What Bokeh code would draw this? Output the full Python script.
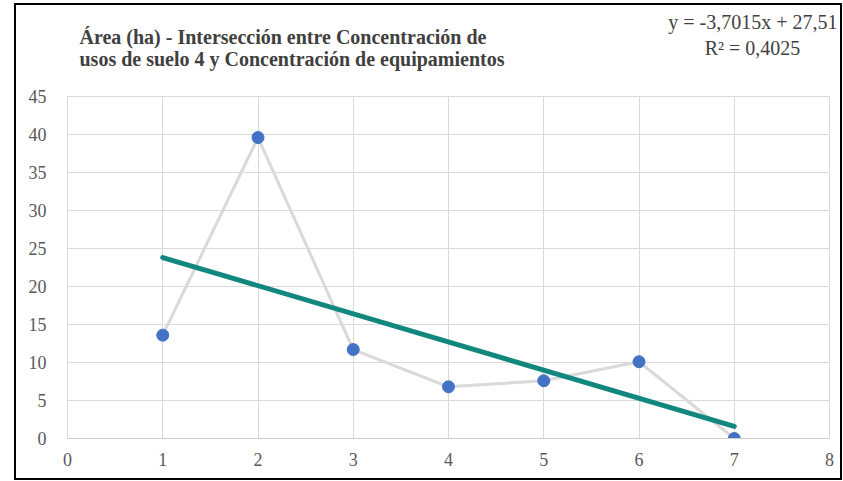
from bokeh.plotting import figure
from bokeh.models import Range1d, Label, FixedTicker
from bokeh.embed import file_html
from bokeh.resources import INLINE

# ---- data ----
x_vals = [1, 2, 3, 4, 5, 6, 7]
area_ha = [13.6, 39.6, 11.7, 6.8, 7.6, 10.1, 0.0]
trend_slope = -3.7015
trend_intercept = 27.51
trend_x = [1, 7]
x_ticks = [0, 1, 2, 3, 4, 5, 6, 7, 8]
y_ticks = [0, 5, 10, 15, 20, 25, 30, 35, 40, 45]
title_lines = ["Área (ha) - Intersección entre Concentración de",
               "usos de suelo 4 y Concentración de equipamientos"]
eq_lines = ["y = -3,7015x + 27,51", "R² = 0,4025"]

trend_y = [trend_slope * xv + trend_intercept for xv in trend_x]

SERIF = "Liberation Serif"

p = figure(width=824, height=473, output_backend="svg", toolbar_location=None,
           x_range=Range1d(0, 8), y_range=Range1d(0, 45),
           min_border_left=51, min_border_right=15, min_border_top=91,
           min_border_bottom=44, margin=(3, 0, 0, 14))
p.styles = {"border": "2px solid #000000", "box-sizing": "content-box"}
p.background_fill_color = "white"
p.border_fill_color = "white"
p.outline_line_color = "#d9d9d9"

for ax in (p.xaxis[0], p.yaxis[0]):
    ax.major_tick_line_color = None
    ax.minor_tick_line_color = None
    ax.major_label_text_font = SERIF
    ax.major_label_text_font_size = "18px"
    ax.major_label_text_color = "#595959"
p.xaxis[0].ticker = FixedTicker(ticks=x_ticks)
p.yaxis[0].ticker = FixedTicker(ticks=y_ticks)
p.xaxis[0].axis_line_color = "#d0d0d0"
p.yaxis[0].axis_line_color = None
p.xaxis[0].major_label_standoff = 8
p.yaxis[0].major_label_standoff = 15

p.xgrid[0].ticker = FixedTicker(ticks=x_ticks)
p.ygrid[0].ticker = FixedTicker(ticks=y_ticks)
p.xgrid[0].grid_line_color = "#d9d9d9"
p.ygrid[0].grid_line_color = "#d9d9d9"

p.line(x_vals, area_ha, line_color="#d9d9d9", line_width=3)
p.line(trend_x, trend_y, line_color="#12877d", line_width=5, line_cap="round")
p.scatter(x_vals, area_ha, size=12, fill_color="#4472c4", line_color="#4472c4")

# title (two lines) -- placed in the top panel so it is not clipped to the frame
for txt, yy in zip(title_lines, [40, 62]):
    p.add_layout(Label(x=61, y=yy, x_units="canvas", y_units="canvas",
                       text=txt, text_font=SERIF,
                       text_font_style="bold", text_font_size="20px",
                       text_color="#404040", text_baseline="bottom",
                       text_align="left"), "above")

# trendline equation
p.add_layout(Label(x=819, y=25, x_units="canvas", y_units="canvas",
                   text=eq_lines[0], text_font=SERIF,
                   text_font_size="20px", text_color="#404040",
                   text_baseline="bottom", text_align="right"), "above")
p.add_layout(Label(x=734, y=51, x_units="canvas", y_units="canvas",
                   text=eq_lines[1], text_font=SERIF,
                   text_font_size="20px", text_color="#404040",
                   text_baseline="bottom", text_align="center"), "above")

open("out.html", "w").write(file_html(p, INLINE))
